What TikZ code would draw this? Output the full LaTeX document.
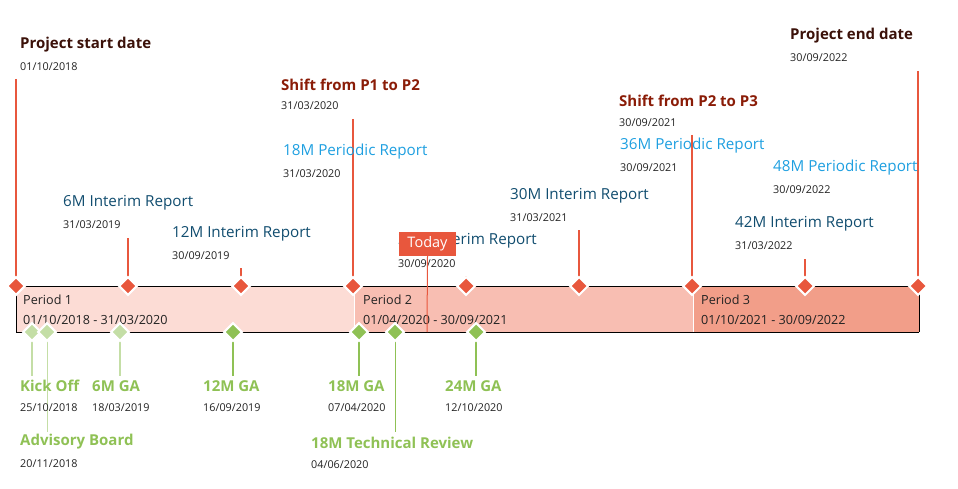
\documentclass[tikz,border=0pt]{standalone}
\usepackage{fontspec}
\setmainfont{Open Sans}
\definecolor{tred}{HTML}{E8573D}
\definecolor{pone}{HTML}{FCDCD5}
\definecolor{ptwo}{HTML}{F8BEB2}
\definecolor{pthree}{HTML}{F29E89}
\definecolor{tbrown}{HTML}{3B1109}
\definecolor{tshift}{HTML}{8A1C07}
\definecolor{tblue}{HTML}{1E9FE0}
\definecolor{tinter}{HTML}{114D6F}
\definecolor{tgreen}{HTML}{8FC155}
\definecolor{lgreen}{HTML}{C4DEA6}
\definecolor{tdate}{HTML}{222222}
\tikzset{
  dia/.style={rectangle, rotate=45, minimum size=12.6pt, inner sep=0pt, draw=white, line width=2pt, fill=#1},
  ttl/.style={anchor=west, inner sep=0pt, font=\fontsize{15}{16}\selectfont\bfseries},
  lbl/.style={anchor=west, inner sep=0pt, font=\fontsize{15.2}{16}\selectfont},
  dat/.style={anchor=west, inner sep=0pt, text=tdate, font=\fontsize{10.8}{11}\selectfont},
  per/.style={anchor=west, inner sep=0pt, text=tdate, font=\fontsize{12.6}{13}\selectfont},
  rstem/.style={draw=tred, line width=1.5pt},
  gstem/.style={draw=#1, line width=2.2pt},
  gthin/.style={draw=#1, line width=1pt},
}
\begin{document}
\begin{tikzpicture}[x=1pt,y=-1pt]
\useasboundingbox (0,0) rectangle (958,489);
% periods
\fill[pone] (16,286) rectangle (353.5,332);
\fill[ptwo] (354.5,286) rectangle (692.5,332);
\fill[pthree] (693.5,286) rectangle (919,332);
\draw[black, line width=1pt] (16,286) -- (919,286);
\draw[black, line width=1pt] (16,332) -- (919,332);
\draw[black, line width=1pt] (16,286) -- (16,332);
\draw[black, line width=1pt] (919,286) -- (919,332);
\node[per] (p1a) at (23,300) {Period 1};
\node[per] (p1b) at (23,320) {01/10/2018 - 31/03/2020};
\node[per] (p2a) at (363,300) {Period 2};
\node[per] (p2b) at (363,320) {01/04/2020 - 30/09/2021};
\node[per] (p3a) at (701,300) {Period 3};
\node[per] (p3b) at (701,320) {01/10/2021 - 30/09/2022};
% stem tops
\coordinate (s1) at (16,79);
\coordinate (s2) at (128,238);
\coordinate (s3) at (241,268);
\coordinate (s4) at (353,119);
\coordinate (s5) at (466,276);
\coordinate (s6) at (579,230);
\coordinate (s7) at (692,135);
\coordinate (s8) at (805,259);
\coordinate (s9) at (918,71);
% red diamonds
\foreach \i/\x in {1/16,2/128,3/241,4/353,5/466,6/579,7/692,8/805,9/918}{
  \coordinate (rc\i) at (\x,286);
}
\foreach \i in {1,...,9}{ \draw[rstem] (s\i) -- (rc\i); }
\foreach \i in {1,...,9}{ \node[dia=tred] (r\i) at (rc\i) {}; }
% green stems
\coordinate (gc1) at (32,332);  \coordinate (g1) at (32,376);
\coordinate (gc2) at (47,332);  \coordinate (g2) at (47,432);
\coordinate (gc3) at (120,332); \coordinate (g3) at (120,376);
\coordinate (gc4) at (233,332); \coordinate (g4) at (233,376);
\coordinate (gc5) at (359,332); \coordinate (g5) at (359,376);
\coordinate (gc6) at (395,332); \coordinate (g6) at (395,432);
\coordinate (gc7) at (476,332); \coordinate (g7) at (476,376);
\draw[gstem=lgreen] (gc1) -- (g1);
\draw[gthin=lgreen] (gc2) -- (g2);
\draw[gstem=lgreen] (gc3) -- (g3);
\draw[gstem=tgreen] (gc4) -- (g4);
\draw[gstem=tgreen] (gc5) -- (g5);
\draw[gthin=tgreen] (gc6) -- (g6);
\draw[gstem=tgreen] (gc7) -- (g7);
\node[dia=lgreen] (d1) at (gc1) {};
\node[dia=lgreen] (d2) at (gc2) {};
\node[dia=lgreen] (d3) at (gc3) {};
\node[dia=tgreen] (d4) at (gc4) {};
\node[dia=tgreen] (d5) at (gc5) {};
\node[dia=tgreen] (d6) at (gc6) {};
\node[dia=tgreen] (d7) at (gc7) {};
% top labels
\node[ttl, text=tbrown] (t1) at (20,45) {Project start date};
\node[dat] (t1d) at (20,67) {01/10/2018};
\node[ttl, text=tshift] (t4) at (281,85) {Shift from P1 to P2};
\node[dat] (t4d) at (281,106) {31/03/2020};
\node[lbl, text=tblue] (t4b) at (283,152) {18M Periodic Report};
\node[dat] (t4bd) at (283,174) {31/03/2020};
\node[lbl, text=tinter] (t2) at (63,203) {6M Interim Report};
\node[dat] (t2d) at (63,225) {31/03/2019};
\node[lbl, text=tinter] (t3) at (172,234) {12M Interim Report};
\node[dat] (t3d) at (172,256) {30/09/2019};
\node[lbl, text=tinter] (t5) at (398,241) {24M Interim Report};
\node[dat] (t5d) at (398,264) {30/09/2020};
\node[lbl, text=tinter] (t6) at (510,196) {30M Interim Report};
\node[dat] (t6d) at (510,218) {31/03/2021};
\node[ttl, text=tshift] (t7) at (619,101) {Shift from P2 to P3};
\node[dat] (t7d) at (619,123) {30/09/2021};
\node[lbl, text=tblue] (t7b) at (620,146) {36M Periodic Report};
\node[dat] (t7bd) at (620,168) {30/09/2021};
\node[lbl, text=tblue] (t9b) at (773,168) {48M Periodic Report};
\node[dat] (t9bd) at (773,190) {30/09/2022};
\node[lbl, text=tinter] (t8) at (735,224) {42M Interim Report};
\node[dat] (t8d) at (735,246) {31/03/2022};
\node[ttl, text=tbrown] (t9) at (790,36) {Project end date};
\node[dat] (t9d) at (790,58) {30/09/2022};
% bottom labels
\node[ttl, text=tgreen] (b1) at (20,386) {Kick Off};
\node[dat] (b1d) at (20,408) {25/10/2018};
\node[ttl, text=tgreen] (b3) at (92,386) {6M GA};
\node[dat] (b3d) at (92,408) {18/03/2019};
\node[ttl, text=tgreen] (b4) at (203,386) {12M GA};
\node[dat] (b4d) at (203,408) {16/09/2019};
\node[ttl, text=tgreen] (b5) at (328,386) {18M GA};
\node[dat] (b5d) at (328,408) {07/04/2020};
\node[ttl, text=tgreen] (b7) at (445,386) {24M GA};
\node[dat] (b7d) at (445,408) {12/10/2020};
\node[ttl, text=tgreen] (b2) at (20,442) {Advisory Board};
\node[dat] (b2d) at (20,464) {20/11/2018};
\node[ttl, text=tgreen] (b6) at (311,443) {18M Technical Review};
\node[dat] (b6d) at (311,465) {04/06/2020};
% today
\node[fill=tred, text=white, minimum width=57pt, minimum height=24pt, inner sep=0pt, font=\fontsize{14.5}{15}\selectfont] (today) at (427.5,244) {Today};
\coordinate (tdend) at (427,332);
\draw[tred, line width=1pt] (today.south) -- (tdend);
\end{tikzpicture}
\end{document}
